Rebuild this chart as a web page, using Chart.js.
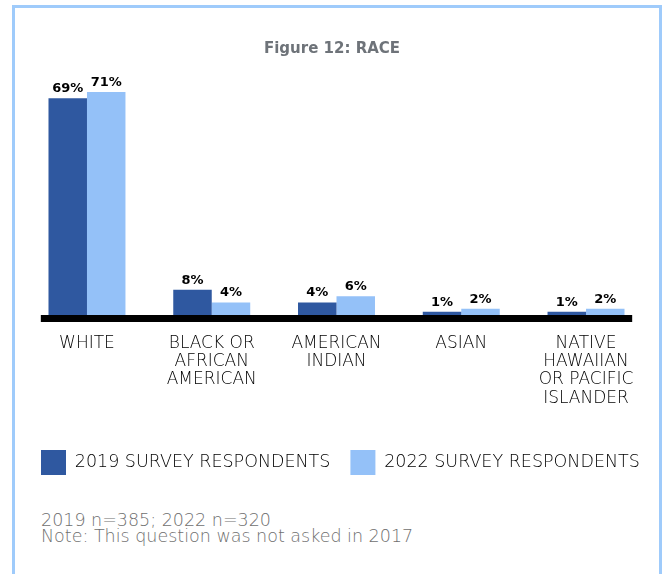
<!DOCTYPE html>
<html>
<head>
<meta charset="utf-8">
<script src="https://cdn.jsdelivr.net/npm/chart.js@4/dist/chart.umd.min.js"></script>
<style>
  html, body { margin: 0; padding: 0; background: #fff; }
  body { width: 665px; height: 574px; position: relative; overflow: hidden; }
  #frame { position: absolute; left: 12px; top: 5px; width: 644px; height: 600px;
           border: 3px solid #9fcbfb; border-bottom: none; }
  #wrap { position: absolute; left: 0; top: 0; width: 665px; height: 485px; }
  #note { position: absolute; left: 41px; top: 512px; font-family: "DejaVu Sans", sans-serif; font-weight: 200;
          font-size: 17.5px; line-height: 16px; color: #6f6f6f; white-space: nowrap; }
</style>
</head>
<body>
<div id="frame"></div>
<div id="wrap"><canvas id="c" width="665" height="485"></canvas></div>
<div id="note">2019 n=385; 2022 n=320<br>Note: This question was not asked in 2017</div>
<script>
const categories = [
  ['WHITE'],
  ['BLACK OR', 'AFRICAN', 'AMERICAN'],
  ['AMERICAN', 'INDIAN'],
  ['ASIAN'],
  ['NATIVE', 'HAWAIIAN', 'OR PACIFIC', 'ISLANDER']
];
const seriesNames = ['2019 SURVEY RESPONDENTS', '2022 SURVEY RESPONDENTS'];
const values2019 = [69, 8, 4, 1, 1];
const values2022 = [71, 4, 6, 2, 2];
const titleText = 'Figure 12: RACE';

const baselinePlugin = {
  id: 'baseline',
  afterDatasetsDraw(chart) {
    const {ctx, chartArea, scales} = chart;
    const x = scales.x;
    const half = (x.getPixelForValue(1) - x.getPixelForValue(0)) * 0.37;
    const left = x.getPixelForValue(0) - half;
    const right = x.getPixelForValue(categories.length - 1) + half;
    ctx.save();
    ctx.fillStyle = '#000';
    ctx.fillRect(left, chartArea.bottom, right - left, 7);
    ctx.restore();
  }
};

const labelPlugin = {
  id: 'valueLabels',
  afterDatasetsDraw(chart) {
    const {ctx} = chart;
    ctx.save();
    ctx.font = 'bold 13px "DejaVu Sans", sans-serif';
    ctx.fillStyle = '#000';
    ctx.textAlign = 'center';
    ctx.textBaseline = 'alphabetic';
    chart.data.datasets.forEach((ds, i) => {
      const meta = chart.getDatasetMeta(i);
      meta.data.forEach((bar, j) => {
        ctx.fillText(ds.data[j] + '%', bar.x, bar.y - 6);
      });
    });
    ctx.restore();
  }
};

// centre the title over the plot rather than over the full legend width
const titleShift = {
  id: 'titleShift',
  afterLayout(chart) {
    const tb = chart.titleBlock;
    if (tb) { tb.left -= 10; tb.right -= 10; }
  }
};

const hiddenAxis = (pos, w) => ({
  position: pos,
  display: true,
  min: 0, max: 78,
  grid: { display: false, drawTicks: false },
  border: { display: false },
  ticks: { display: false },
  afterFit(scale) { scale.width = w; }
});

new Chart(document.getElementById('c'), {
  type: 'bar',
  data: {
    labels: categories,
    datasets: [
      { label: seriesNames[0], data: values2019, backgroundColor: '#2f58a0',
        categoryPercentage: 0.617, barPercentage: 1.0 },
      { label: seriesNames[1], data: values2022, backgroundColor: '#94c1f8',
        categoryPercentage: 0.617, barPercentage: 1.0 }
    ]
  },
  options: {
    responsive: false,
    animation: false,
    devicePixelRatio: 1,
    layout: { padding: { left: 21, right: 2, top: 0, bottom: 0 } },
    plugins: {
      title: {
        display: true,
        text: titleText,
        color: '#6e7379',
        font: { family: '"DejaVu Sans"', weight: 'bold', size: 15, lineHeight: 1.2 },
        padding: { top: 40, bottom: 12 }
      },
      legend: {
        position: 'bottom',
        align: 'start',
        labels: {
          boxWidth: 25, boxHeight: 25, padding: 20,
          color: '#000',
          font: { family: '"DejaVu Sans"', weight: '200', size: 17.5 }
        }
      },
      tooltip: { enabled: false }
    },
    scales: {
      x: {
        grid: { display: false, drawTicks: false },
        border: { display: false },
        ticks: {
          color: '#000', maxRotation: 0, autoSkip: false, padding: 19,
          font: { family: '"DejaVu Sans"', weight: '200', size: 17, lineHeight: 1.08 }
        },
        afterFit(scale) { scale.height = 115; }
      },
      y: hiddenAxis('left', 3.6),
      yRight: hiddenAxis('right', 14.6)
    }
  },
  plugins: [baselinePlugin, labelPlugin, titleShift]
});
</script>
</body>
</html>
